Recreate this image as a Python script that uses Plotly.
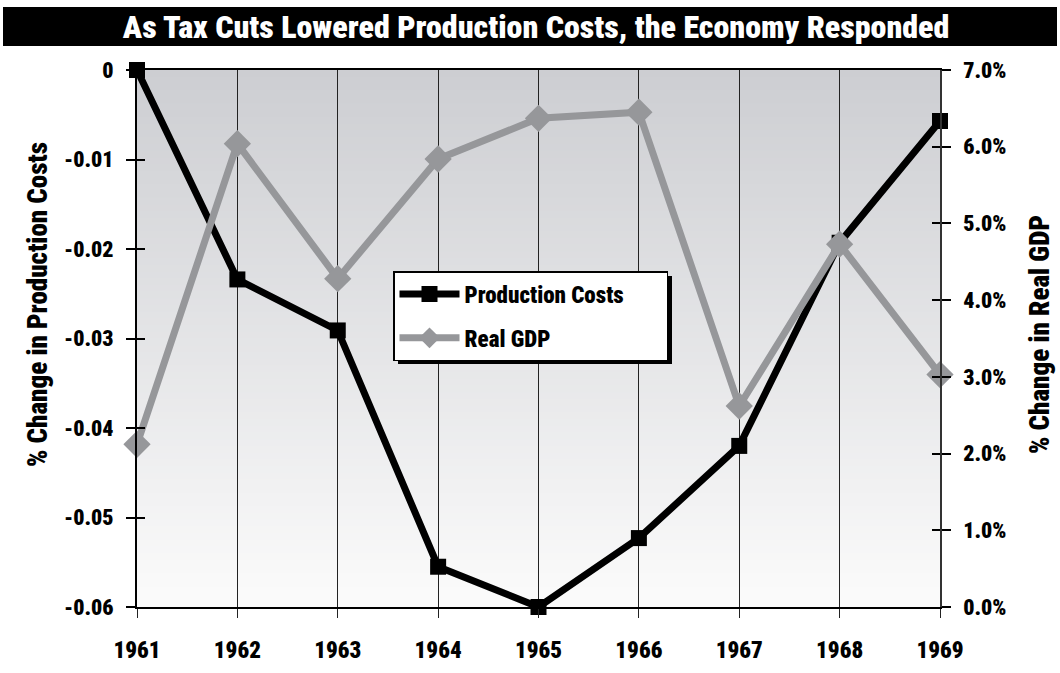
import plotly.graph_objects as go

# ---- data -------------------------------------------------------------
years = [1961, 1962, 1963, 1964, 1965, 1966, 1967, 1968, 1969]
production_costs = [0.0, -0.0234, -0.0291, -0.0555, -0.0600, -0.0523, -0.0420, -0.0193, -0.0057]
real_gdp = [0.0212, 0.0604, 0.0428, 0.0584, 0.0637, 0.0645, 0.0262, 0.0473, 0.0303]

left_ticks = [0, -0.01, -0.02, -0.03, -0.04, -0.05, -0.06]
left_labels = ["0", "-0.01", "-0.02", "-0.03", "-0.04", "-0.05", "-0.06"]
right_ticks = [0.0, 0.01, 0.02, 0.03, 0.04, 0.05, 0.06, 0.07]
right_labels = ["0.0%", "1.0%", "2.0%", "3.0%", "4.0%", "5.0%", "6.0%", "7.0%"]

title_text = "As Tax Cuts Lowered Production Costs, the Economy Responded"
left_title = "% Change in Production Costs"
right_title = "% Change in Real GDP"

# ---- layout geometry ----------------------------------------------------
W, H = 1060, 673
L, R, T, B = 137, 120, 70, 66
PW, PH = W - L - R, H - T - B

FONT = "Roboto Condensed, DejaVu Sans Condensed, Roboto, Liberation Sans, sans-serif"
GRAY = "#96979a"
PAD = "\u00a0" * 7  # trailing room inside the legend box


def px_x(px):
    return (px - L) / PW


def px_y(py):
    return (H - B - py) / PH


fig = go.Figure()

fig.add_trace(go.Scatter(
    x=years, y=production_costs, name="Production Costs" + PAD,
    mode="lines+markers", yaxis="y", legendgroup="pc",
    line=dict(color="black", width=7),
    marker=dict(symbol="square", size=16, color="black"),
    cliponaxis=False,
))
fig.add_trace(go.Scatter(
    x=years, y=real_gdp, name="Real GDP",
    mode="lines+markers", yaxis="y2", legendgroup="gdp",
    line=dict(color=GRAY, width=7),
    marker=dict(symbol="diamond", size=21, color=GRAY),
    cliponaxis=False,
))
# carriers for the inward half of the y tick marks
fig.add_trace(go.Scatter(x=[], y=[], yaxis="y3", showlegend=False, hoverinfo="skip"))
fig.add_trace(go.Scatter(x=[], y=[], yaxis="y4", showlegend=False, hoverinfo="skip"))

shapes = []

# vertical gradient behind the plot area
top_rgb = (205, 206, 210)
bot_rgb = (251, 251, 251)
n = 80
for i in range(n):
    t = i / (n - 1)
    c = tuple(round(top_rgb[k] + (bot_rgb[k] - top_rgb[k]) * t) for k in range(3))
    shapes.append(dict(
        type="rect", xref="paper", yref="paper", layer="below",
        x0=0, x1=1, y1=1 - i / n, y0=1 - (i + 1) / n - 0.002,
        fillcolor="rgb(%d,%d,%d)" % c, line=dict(width=0),
    ))

# black title bar
shapes.append(dict(
    type="rect", xref="paper", yref="paper", layer="below",
    x0=px_x(3), x1=px_x(1057), y0=px_y(46), y1=px_y(7),
    fillcolor="black", line=dict(width=0),
))

# drop shadow under the legend box
shapes.append(dict(
    type="rect", xref="paper", yref="paper", layer="above",
    x0=px_x(398), x1=px_x(672), y0=px_y(364), y1=px_y(276),
    fillcolor="black", line=dict(width=0),
))

x_tick_font = dict(family=FONT, size=23, color="black", weight=900)
y_tick_font = dict(family=FONT, size=22, color="black", weight=900)
axis_title_font = dict(family=FONT, size=27, color="black", weight=900)

fig.update_layout(
    width=W, height=H,
    margin=dict(l=L, r=R, t=T, b=B, autoexpand=False),
    paper_bgcolor="white",
    plot_bgcolor="rgba(0,0,0,0)",
    font=dict(family=FONT, color="black"),
    shapes=shapes,
    title=dict(
        text=title_text, x=0.497, xref="paper", xanchor="center",
        y=1 - 26.5 / H, yref="container", yanchor="middle",
        font=dict(family=FONT, size=32, color="white", weight=900),
    ),
    xaxis=dict(
        range=[1961, 1969], tickvals=years, ticktext=[str(y) for y in years],
        showgrid=True, gridcolor="#222222", gridwidth=1,
        ticks="outside", ticklen=9, tickwidth=1, tickcolor="#222222",
        showline=True, linecolor="black", linewidth=2, mirror=True,
        tickfont=x_tick_font, ticklabelstandoff=12, zeroline=False,
    ),
    yaxis=dict(
        range=[-0.06, 0], tickvals=left_ticks, ticktext=left_labels,
        showgrid=False, zeroline=False,
        ticks="outside", ticklen=9, tickwidth=1.5, tickcolor="black",
        showline=True, linecolor="black", linewidth=2,
        tickfont=y_tick_font, ticklabelstandoff=8,
    ),
    yaxis2=dict(
        range=[0, 0.07], tickvals=right_ticks, ticktext=right_labels,
        overlaying="y", side="right", anchor="x",
        showgrid=False, zeroline=False,
        ticks="outside", ticklen=9, tickwidth=1.5, tickcolor="black",
        showline=True, linecolor="#333333", linewidth=1.5,
        tickfont=y_tick_font, ticklabelstandoff=8,
    ),
    yaxis3=dict(
        range=[-0.06, 0], tickvals=left_ticks, overlaying="y", side="left",
        anchor="x", ticks="inside", ticklen=8, tickwidth=1.5, tickcolor="black",
        showticklabels=False, showgrid=False, zeroline=False, showline=False,
    ),
    yaxis4=dict(
        range=[0, 0.07], tickvals=right_ticks, overlaying="y", side="right",
        anchor="x", ticks="inside", ticklen=8, tickwidth=1.5, tickcolor="black",
        showticklabels=False, showgrid=False, zeroline=False, showline=False,
    ),
    legend=dict(
        x=px_x(393), y=px_y(271), xanchor="left", yanchor="top",
        bgcolor="white", bordercolor="black", borderwidth=1.5,
        font=dict(family=FONT, size=23, color="black", weight=900),
        itemwidth=60, tracegroupgap=11,
    ),
    annotations=[
        dict(text=left_title, xref="paper", yref="paper",
             x=px_x(38), y=px_y(305), textangle=-90, showarrow=False,
             xanchor="center", yanchor="middle", font=axis_title_font),
        dict(text=right_title, xref="paper", yref="paper",
             x=px_x(1040), y=px_y(335), textangle=-90, showarrow=False,
             xanchor="center", yanchor="middle", font=axis_title_font),
    ],
    showlegend=True,
)

fig.write_html("out.html")
